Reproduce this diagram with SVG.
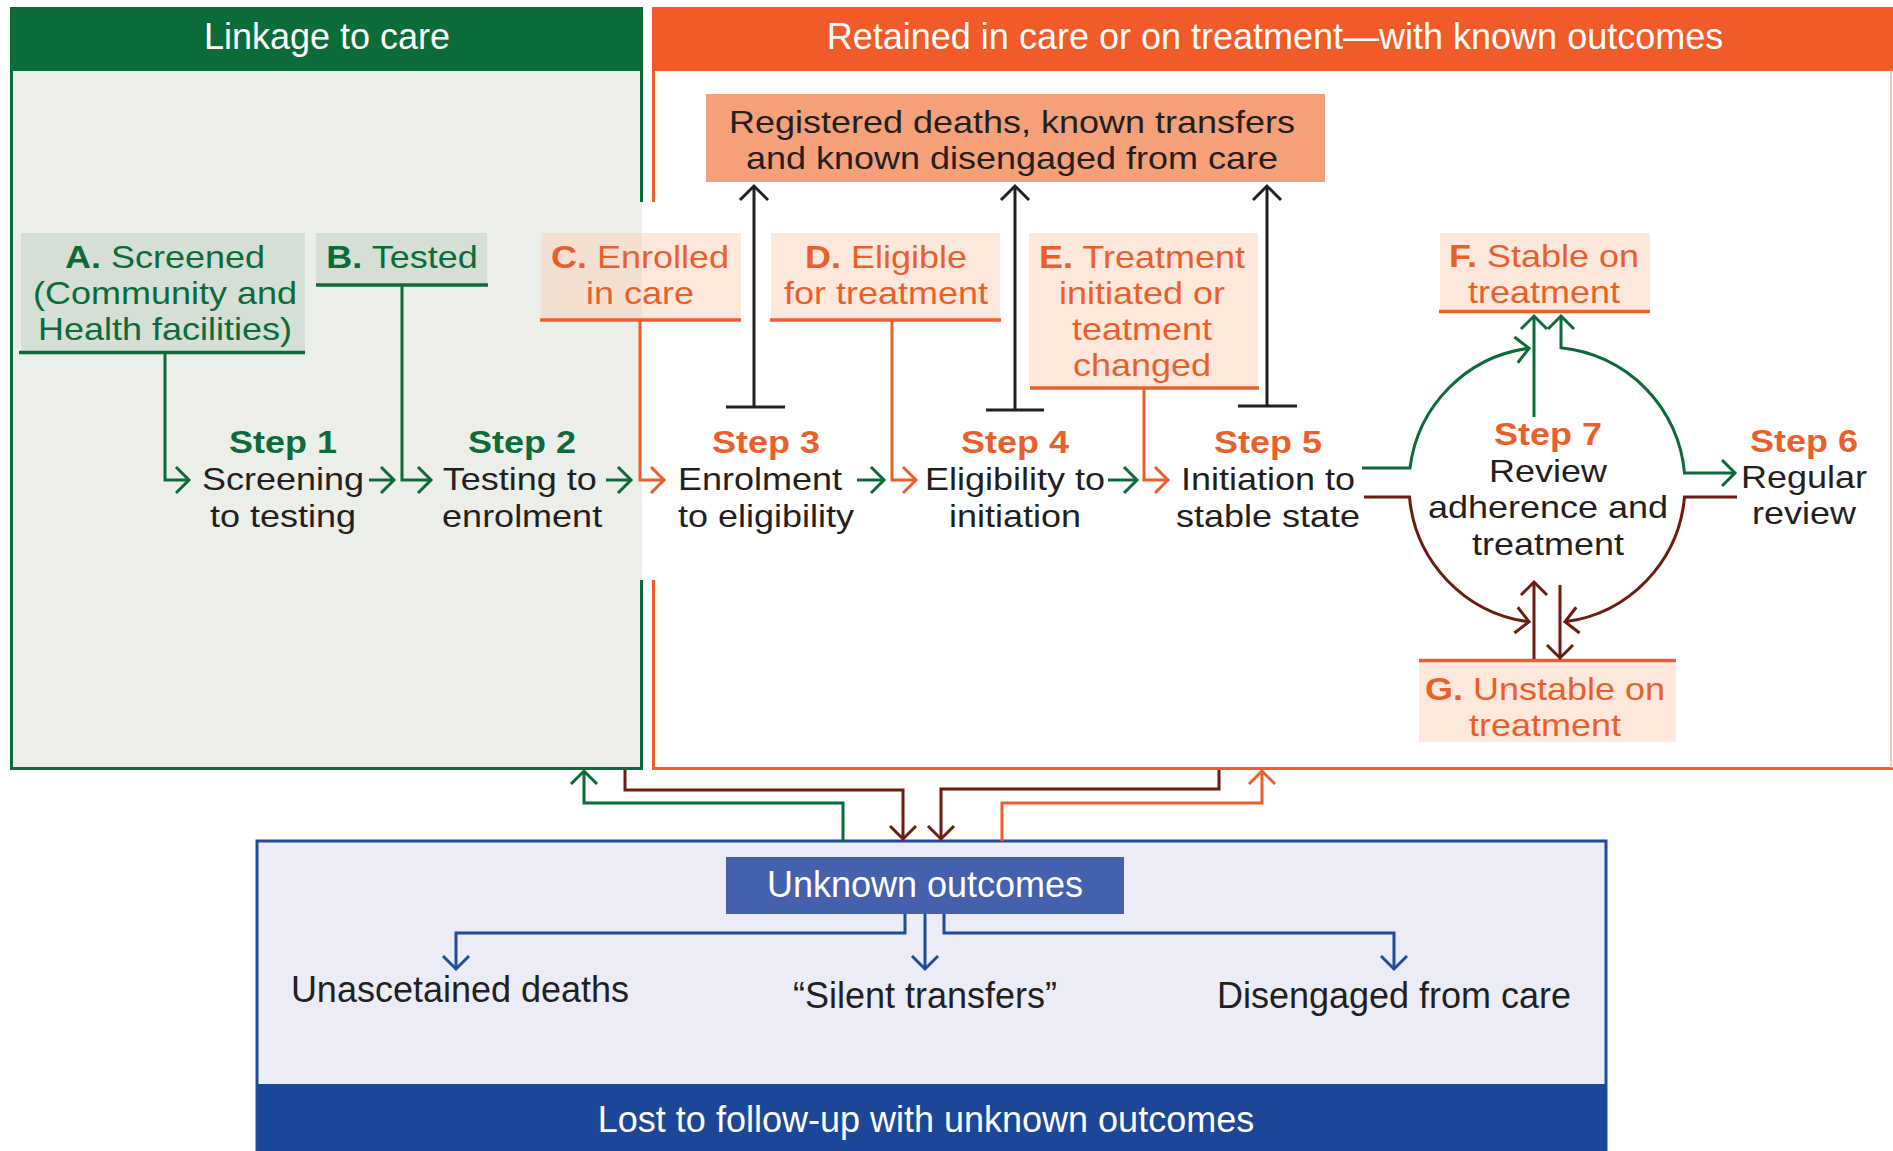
<svg xmlns="http://www.w3.org/2000/svg" width="1893" height="1151" viewBox="0 0 1893 1151">
<style>
text{font-family:"Liberation Sans",Arial,Helvetica,sans-serif;font-size:36px;text-anchor:middle}
text.m{font-size:32px}
.w{fill:#ffffff}
.k{fill:#231f20}
.g{fill:#0b6b39}
.o{fill:#ea5f2b}
.b{font-weight:bold}
.ln{fill:none;stroke-width:3}
.lg{stroke:#0b6b39}
.lo{stroke:#ea5f2b}
.lm{stroke:#6b1d12}
.lk{stroke:#231f20}
.lb{stroke:#1f4b9b}
.ul{stroke-width:3.5}
.pch{fill:#fbd5bd;fill-opacity:.55}
.gb{fill:#d6dfd5}
</style>
<defs>
<marker id="ag" markerUnits="userSpaceOnUse" orient="auto-start-reverse" refX="0" refY="0" markerWidth="30" markerHeight="40" viewBox="-18 -20 22 40" overflow="visible"><path d="M-13,-13 L0,0 L-13,13" fill="none" stroke="#0b6b39" stroke-width="3"/></marker>
<marker id="ao" markerUnits="userSpaceOnUse" orient="auto-start-reverse" refX="0" refY="0" markerWidth="30" markerHeight="40" viewBox="-18 -20 22 40" overflow="visible"><path d="M-13,-13 L0,0 L-13,13" fill="none" stroke="#ea5f2b" stroke-width="3"/></marker>
<marker id="am" markerUnits="userSpaceOnUse" orient="auto-start-reverse" refX="0" refY="0" markerWidth="30" markerHeight="40" viewBox="-18 -20 22 40" overflow="visible"><path d="M-13,-13 L0,0 L-13,13" fill="none" stroke="#6b1d12" stroke-width="3"/></marker>
<marker id="ak" markerUnits="userSpaceOnUse" orient="auto-start-reverse" refX="0" refY="0" markerWidth="30" markerHeight="40" viewBox="-18 -20 22 40" overflow="visible"><path d="M-14,-14 L0,0 L-14,14" fill="none" stroke="#231f20" stroke-width="3"/></marker>
<marker id="ab" markerUnits="userSpaceOnUse" orient="auto-start-reverse" refX="0" refY="0" markerWidth="30" markerHeight="40" viewBox="-18 -20 22 40" overflow="visible"><path d="M-13,-13 L0,0 L-13,13" fill="none" stroke="#1f4b9b" stroke-width="3"/></marker>
</defs>

<g id="panel-linkage">
<rect x="10" y="70" width="632" height="699" fill="#eceee9"/>
<rect x="10" y="7" width="633" height="64" fill="#0b6b39"/>
<text class="w" x="327" y="49">Linkage to care</text>
<path class="ln lg" d="M11.5,70 V768.5 H641.5 V580 M641.5,70 V202"/>
</g>

<g id="panel-retained">
<rect x="652" y="7" width="1241" height="64" fill="#f15a29"/>
<text class="w" x="1275" y="49">Retained in care or on treatment—with known outcomes</text>
<path class="ln lo" d="M653.5,70 V202 M653.5,580 V768.5 H1893"/>
<path d="M1891,70 V768" stroke="#f4b8a0" stroke-width="1.5" fill="none"/>
</g>

<g id="panel-unknown">
<rect x="257" y="841" width="1349" height="320" fill="#ebecf5" stroke="#1f4b9b" stroke-width="3"/>
<rect x="257" y="1084" width="1349" height="67" fill="#1c4799"/>
<text class="w" x="926" y="1132">Lost to follow-up with unknown outcomes</text>
</g>

<g id="registered">
<rect x="706" y="94" width="619" height="88" fill="#f6a07a"/>
<text class="k m" transform="matrix(1.125,0,0,1,-126.5,0)"><tspan x="1012" y="133">Registered deaths, known transfers</tspan><tspan x="1012" y="169">and known disengaged from care</tspan></text>
</g>

<g id="node-A">
<rect class="gb" x="21" y="233" width="284" height="118"/>
<path class="ln lg ul" d="M19,352.5 H305"/>
<text class="g m" transform="matrix(1.125,0,0,1,-20.625,0)"><tspan x="165" y="268"><tspan class="b">A.</tspan> Screened</tspan><tspan x="165" y="304">(Community and</tspan><tspan x="165" y="340">Health facilities)</tspan></text>
</g>

<g id="node-B">
<rect class="gb" x="316" y="233" width="171" height="51"/>
<path class="ln lg ul" d="M316,285 H488"/>
<text class="g m" transform="matrix(1.125,0,0,1,-50.25,0)" x="402" y="268"><tspan class="b">B.</tspan> Tested</text>
</g>

<g id="node-C">
<rect class="pch" x="541" y="233" width="200" height="86"/>
<path class="ln lo ul" d="M540,320 H741"/>
<text class="o m" transform="matrix(1.125,0,0,1,-80,0)"><tspan x="640" y="268"><tspan class="b">C.</tspan> Enrolled</tspan><tspan x="640" y="304">in care</tspan></text>
</g>

<g id="node-D">
<rect class="pch" x="771" y="233" width="229" height="86"/>
<path class="ln lo ul" d="M770,320 H1001"/>
<text class="o m" transform="matrix(1.125,0,0,1,-110.75,0)"><tspan x="886" y="268"><tspan class="b">D.</tspan> Eligible</tspan><tspan x="886" y="304">for treatment</tspan></text>
</g>

<g id="node-E">
<rect class="pch" x="1029" y="233" width="229" height="154"/>
<path class="ln lo ul" d="M1030,388 H1259"/>
<text class="o m" transform="matrix(1.125,0,0,1,-142.75,0)"><tspan x="1142" y="268"><tspan class="b">E.</tspan> Treatment</tspan><tspan x="1142" y="304">initiated or</tspan><tspan x="1142" y="340">teatment</tspan><tspan x="1142" y="376">changed</tspan></text>
</g>

<g id="node-F">
<rect class="pch" x="1440" y="233" width="210" height="77"/>
<path class="ln lo ul" d="M1439,311.5 H1650"/>
<text class="o m" transform="matrix(1.125,0,0,1,-193,0)"><tspan x="1544" y="267"><tspan class="b">F.</tspan> Stable on</tspan><tspan x="1544" y="303">treatment</tspan></text>
</g>

<g id="node-G">
<rect class="pch" x="1419" y="661" width="257" height="81"/>
<path class="ln lo ul" d="M1419,660.5 H1676"/>
<text class="o m" transform="matrix(1.125,0,0,1,-193.125,0)"><tspan x="1545" y="700"><tspan class="b">G.</tspan> Unstable on</tspan><tspan x="1545" y="736">treatment</tspan></text>
</g>

<g id="step-1">
<text class="k m" transform="matrix(1.125,0,0,1,-35.375,0)"><tspan class="g b" x="283" y="453">Step 1</tspan><tspan x="283" y="490">Screening</tspan><tspan x="283" y="527">to testing</tspan></text>
</g>
<g id="step-2">
<text class="k m" transform="matrix(1.125,0,0,1,-65.125,0)"><tspan class="g b" x="522" y="453">Step 2</tspan><tspan x="520" y="490">Testing to</tspan><tspan x="522" y="527">enrolment</tspan></text>
</g>
<g id="step-3">
<text class="o b m" transform="matrix(1.125,0,0,1,-95.75,0)" x="766" y="453">Step 3</text>
<text class="k m" style="text-anchor:start" transform="matrix(1.125,0,0,1,-84.75,0)"><tspan x="678" y="490">Enrolment</tspan><tspan x="678" y="527">to eligibility</tspan></text>
</g>
<g id="step-4">
<text class="k m" transform="matrix(1.125,0,0,1,-126.875,0)"><tspan class="o b" x="1015" y="453">Step 4</tspan><tspan x="1015" y="490">Eligibility to</tspan><tspan x="1015" y="527">initiation</tspan></text>
</g>
<g id="step-5">
<text class="k m" transform="matrix(1.125,0,0,1,-158.5,0)"><tspan class="o b" x="1268" y="453">Step 5</tspan><tspan x="1268" y="490">Initiation to</tspan><tspan x="1268" y="527">stable state</tspan></text>
</g>
<g id="step-7">
<text class="k m" transform="matrix(1.125,0,0,1,-193.5,0)"><tspan class="o b" x="1548" y="445">Step 7</tspan><tspan x="1548" y="482">Review</tspan><tspan x="1548" y="518">adherence and</tspan><tspan x="1548" y="555">treatment</tspan></text>
</g>
<g id="step-6">
<text class="k m" transform="matrix(1.125,0,0,1,-225.5,0)"><tspan class="o b" x="1804" y="452">Step 6</tspan><tspan x="1804" y="488">Regular</tspan><tspan x="1804" y="524">review</tspan></text>
</g>

<g id="unknown-outcomes">
<rect x="726" y="857" width="398" height="57" fill="#4461ad"/>
<text class="w" x="925" y="897">Unknown outcomes</text>
</g>
<g id="out-deaths"><text class="k" x="460" y="1002">Unascetained deaths</text></g>
<g id="out-silent"><text class="k" x="925" y="1008">“Silent transfers”</text></g>
<g id="out-disengaged"><text class="k" x="1394" y="1008">Disengaged from care</text></g>

<g id="connectors">
<path class="ln lg" d="M165,354 V480 H189" marker-end="url(#ag)"/>
<path class="ln lg" d="M402,286 V480 H431" marker-end="url(#ag)"/>
<path class="ln lg" d="M369,480 H394" marker-end="url(#ag)"/>
<path class="ln lg" d="M606,480 H631" marker-end="url(#ag)"/>
<path class="ln lg" d="M857,480 H884" marker-end="url(#ag)"/>
<path class="ln lg" d="M1108,480 H1137" marker-end="url(#ag)"/>
<path class="ln lo" d="M640,321 V480 H664" marker-end="url(#ao)"/>
<path class="ln lo" d="M892,321 V480 H916" marker-end="url(#ao)"/>
<path class="ln lo" d="M1144,389 V480 H1168" marker-end="url(#ao)"/>
<path class="ln lk" d="M754,407 V186" marker-end="url(#ak)"/>
<path class="ln lk" d="M726,407 H785"/>
<path class="ln lk" d="M1015,410 V186" marker-end="url(#ak)"/>
<path class="ln lk" d="M986,410 H1044"/>
<path class="ln lk" d="M1267,406 V186" marker-end="url(#ak)"/>
<path class="ln lk" d="M1238,406 H1297"/>
<path class="ln lg" d="M1362,468 H1410 A138,138 0 0 1 1529,348.2" marker-end="url(#ag)"/>
<path class="ln lg" d="M1534,417 V316" marker-end="url(#ag)"/>
<path class="ln lg" d="M1561,316 V347.7 A138,138 0 0 1 1684.5,473 H1735" marker-start="url(#ag)" marker-end="url(#ag)"/>
<path class="ln lm" d="M1364,497 H1409.5 A138,138 0 0 0 1529,621.8" marker-end="url(#am)"/>
<path class="ln lm" d="M1737,497 H1684.5 A138,138 0 0 1 1565,621.8" marker-end="url(#am)"/>
<path class="ln lm" d="M1534,659 V582" marker-end="url(#am)"/>
<path class="ln lm" d="M1560,585 V658" marker-end="url(#am)"/>
<path class="ln lg" d="M843,841 V803 H584 V771" marker-end="url(#ag)"/>
<path class="ln lm" d="M625,770 V790 H903 V839" marker-end="url(#am)"/>
<path class="ln lm" d="M1219,770 V789 H941 V839" marker-end="url(#am)"/>
<path class="ln lo" d="M1002,841 V803 H1262 V771" marker-end="url(#ao)"/>
<path class="ln lb" d="M905,914 V933 H456 V969" marker-end="url(#ab)"/>
<path class="ln lb" d="M925,914 V969" marker-end="url(#ab)"/>
<path class="ln lb" d="M944,914 V933 H1394 V969" marker-end="url(#ab)"/>
</g>
</svg>
